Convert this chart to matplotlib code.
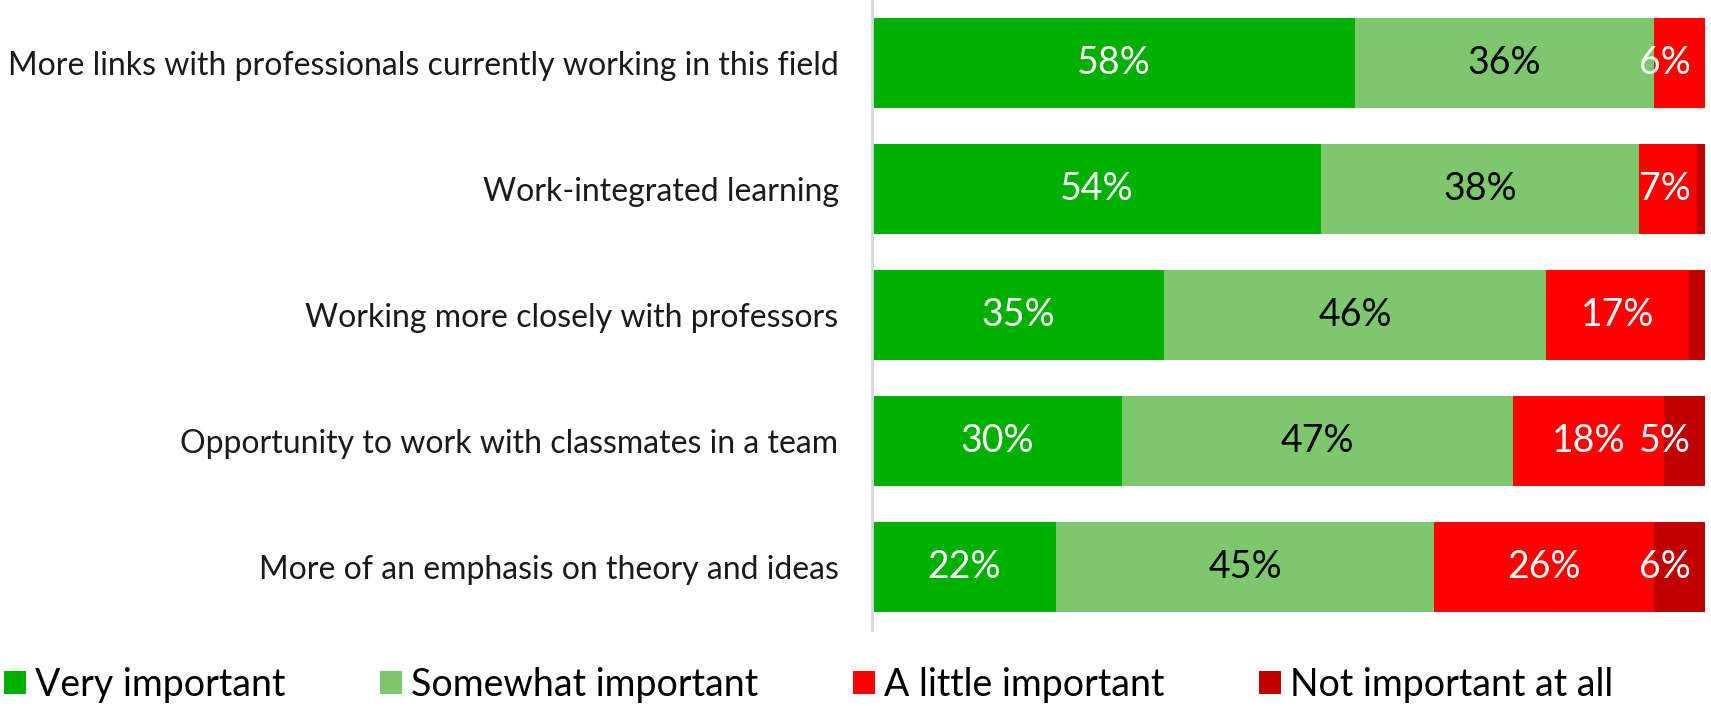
import matplotlib
matplotlib.use("Agg")
from matplotlib import pyplot as plt
from matplotlib.patches import Patch
import numpy as np

plt.rcParams['font.family'] = ['Lato', 'DejaVu Sans']

categories = [
    "More links with professionals currently working in this field",
    "Work-integrated learning",
    "Working more closely with professors",
    "Opportunity to work with classmates in a team",
    "More of an emphasis on theory and ideas",
]
series_names = ["Very important", "Somewhat important", "A little important", "Not important at all"]
very = [58.0, 53.9, 35.1, 30.0, 22.1]
somewhat = [35.9, 38.2, 45.8, 47.0, 45.4]
little = [6.1, 6.9, 17.2, 18.1, 26.4]
not_at_all = [0.0, 1.0, 1.9, 4.9, 6.1]

colors = ["#00B000", "#7DC86D", "#FF0000", "#C00000"]
text_colors = ["white", "black", "white", "white"]

fig = plt.figure(figsize=(17.11, 7.06), dpi=100)
ax = fig.add_axes([0.5096, 0.1076, 0.4869, 0.8924])

y = np.arange(len(categories))
left = np.zeros(len(categories))
for vals, col, tcol in zip([very, somewhat, little, not_at_all], colors, text_colors):
    vals = np.array(vals)
    ax.barh(y, vals, left=left, height=0.72, color=col, edgecolor='none')
    for yi, (l, v) in enumerate(zip(left, vals)):
        if v >= 3:
            # keep small end labels inside the plot area
            xc = min(l + v / 2, 95.2)
            ax.text(xc, yi, f"{v:.0f}%", ha='center', va='center',
                    color=tcol, fontsize=27)
    left += vals

ax.set_xlim(0, 100)
ax.set_ylim(len(categories) - 0.5, -0.5)
ax.set_yticks(y)
ax.set_yticklabels(categories, fontsize=23, color="#1a1a1a")
ax.tick_params(axis='y', length=0, pad=24)
ax.set_xticks([])
for s in ['top', 'right', 'bottom']:
    ax.spines[s].set_visible(False)
ax.spines['left'].set_color("#D9D9D9")
ax.spines['left'].set_linewidth(2)

handles = [Patch(facecolor=c, edgecolor='none') for c in colors]
fig.legend(handles, series_names, loc='center left', bbox_to_anchor=(0.0026, 0.03),
           ncol=4, frameon=False, fontsize=27, handlelength=0.58, handleheight=0.58,
           handletextpad=0.24, columnspacing=2.53, borderaxespad=0, borderpad=0)

plt.savefig("out.png", dpi=100)
